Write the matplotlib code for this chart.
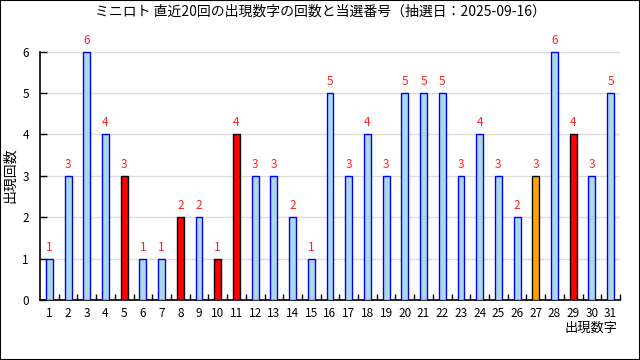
import matplotlib
matplotlib.use("Agg")
import matplotlib.pyplot as plt
from matplotlib.patches import Rectangle

plt.rcParams['font.family'] = ['Noto Sans CJK JP', 'DejaVu Sans']

numbers = list(range(1, 32))
counts = [1, 3, 6, 4, 3, 1, 1, 2, 2, 1, 4, 3, 3, 2, 1, 5, 3, 4, 3, 5, 5, 5, 3, 4, 3, 2, 3, 6, 4, 3, 5]
main_numbers = [5, 8, 10, 11, 29]
bonus_numbers = [27]
title = "ミニロト 直近20回の出現数字の回数と当選番号（抽選日：2025-09-16）"
xlabel = "出現数字"
ylabel = "出現回数"
yticks = [0, 1, 2, 3, 4, 5, 6]

fig = plt.figure(figsize=(6.4, 3.6), dpi=100)
ax = fig.add_axes([40/640, 1-300/360, 580/640, (300-31)/360])

faces, edges = [], []
for n in numbers:
    if n in main_numbers:
        faces.append('#FF0000'); edges.append('#000000')
    elif n in bonus_numbers:
        faces.append('#FFA500'); edges.append('#000000')
    else:
        faces.append('#ADD8E6'); edges.append('#0000FF')

ax.bar(numbers, counts, width=0.37, color=faces, edgecolor=edges, linewidth=1.0, zorder=3)
for n, c in zip(numbers, counts):
    ax.text(n, c + 0.12, str(c), ha='center', va='bottom', color='#FF2020', fontsize=8.5, zorder=4)

ax.set_xlim(0.5, 31.5)
ax.set_ylim(0, 6.5)
ax.set_xticks(numbers)
ax.set_xticklabels([str(n) for n in numbers], fontsize=8.5)
ax.tick_params(axis='x', length=0, pad=5)
ax.set_xticks([n + 0.5 for n in numbers], minor=True)
ax.tick_params(axis='x', which='minor', direction='in', length=4, width=1, color='black')
ax.set_yticks(yticks)
ax.set_yticklabels([str(v) for v in yticks], fontsize=8.5)
ax.tick_params(axis='y', direction='in', length=5, width=1, pad=8)
ax.grid(axis='y', color='#DDDDDD', linewidth=1, zorder=0)
ax.set_axisbelow(True)
for s in ['top', 'right']:
    ax.spines[s].set_visible(False)
for s in ['left', 'bottom']:
    ax.spines[s].set_linewidth(1.2)
ax.spines['left'].set_bounds(0, 6)

fig.text(0.5, 1-12/360, title, ha='center', va='center', fontsize=10)
fig.text(618/640, 1-328/360, xlabel, ha='right', va='center', fontsize=9.5)
fig.text(10/640, 1-175/360, ylabel, ha='center', va='center', rotation=90, fontsize=10)

fig.patches.append(Rectangle((0, 0), 1, 1, transform=fig.transFigure, fill=False,
                             edgecolor='black', linewidth=1.5, zorder=10))

fig.savefig('out.png', dpi=100)
